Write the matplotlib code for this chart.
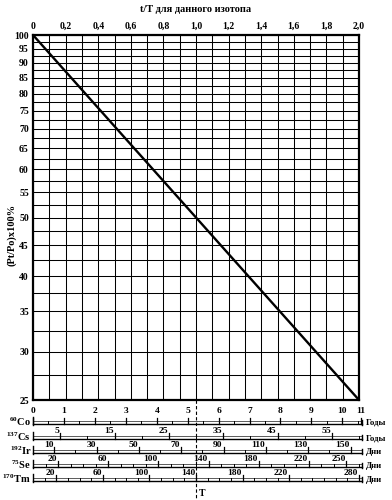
import matplotlib
matplotlib.use('Agg')
import matplotlib.pyplot as plt
import matplotlib.ticker as mticker
import numpy as np

# ---------------- data ----------------
t_over_T = [0.0, 1.0, 2.0]
activity_pct = [100, 50, 25]

x_ticks = [0.0, 0.2, 0.4, 0.6, 0.8, 1.0, 1.2, 1.4, 1.6, 1.8, 2.0]
x_tick_labels = ['0', '0,2', '0,4', '0,6', '0,8', '1,0', '1,2', '1,4', '1,6', '1,8', '2,0']
y_ticks = [100, 95, 90, 85, 80, 75, 70, 65, 60, 55, 50, 45, 40, 35, 30, 25]
y_minor_grid = [97.5, 92.5, 87.5, 82.5, 77.5, 72.5, 67.5, 62.5, 57.5, 52.5,
                47.5, 42.5, 37.5, 32.5, 27.5]

# isotope nomogram scales
iso_names = ['Co', 'Cs', 'Ir', 'Se', 'Tm']
iso_mass = ['60', '137', '192', '75', '170']
iso_half_life = [5.27, 30.0, 77.0, 130.0, 140.0]
co_labels = [0, 1, 2, 3, 4, 5, 6, 7, 8, 9, 10, 11]
cs_labels = [5, 15, 25, 35, 45, 55]
ir_labels = [10, 30, 50, 70, 90, 110, 130, 150]
se_labels = [20, 60, 100, 140, 180, 220, 250]
tm_labels = [20, 60, 100, 140, 180, 220, 280]
iso_labels = [co_labels, cs_labels, ir_labels, se_labels, tm_labels]
iso_minor_step = [0.5, 5, 10, 10, 10]
iso_units = ['Годы', 'Годы', 'Дни', 'Дни', 'Дни']

# ---------------- style ----------------
FONT = ['Liberation Serif', 'DejaVu Serif']
plt.rcParams['font.family'] = FONT
plt.rcParams['font.weight'] = 'bold'
plt.rcParams['mathtext.fontset'] = 'custom'
plt.rcParams['mathtext.rm'] = 'Liberation Serif:bold'
plt.rcParams['mathtext.it'] = 'Liberation Serif:bold'
plt.rcParams['mathtext.bf'] = 'Liberation Serif:bold'

W, H = 392, 500
fig = plt.figure(figsize=(W / 100, H / 100), dpi=100)
fig.patch.set_facecolor('white')

L, R, T_, B = 33, 359, 35, 400
ax = fig.add_axes([L / W, 1 - B / H, (R - L) / W, (B - T_) / H])
ax.set_yscale('log')
ax.set_xlim(0, 2.0)
ax.set_ylim(25, 100)

ax.plot(t_over_T, activity_pct, color='black', lw=1.7, solid_capstyle='butt', zorder=5)

ax.xaxis.tick_top()
ax.set_xticks(x_ticks)
ax.set_xticklabels(x_tick_labels, fontsize=7, fontweight='bold')
ax.set_xticks(np.arange(0.1, 2.0, 0.2), minor=True)
ax.set_yticks(y_ticks)
ax.set_yticklabels([str(v) for v in y_ticks], fontsize=7, fontweight='bold')
ax.set_yticks(y_minor_grid, minor=True)
ax.yaxis.set_minor_formatter(mticker.NullFormatter())
ax.tick_params(which='both', length=0, pad=3)
ax.grid(which='both', color='black', lw=0.75)
for s in ax.spines.values():
    s.set_linewidth(1.6)
    s.set_zorder(6)

fig.text(0.5, 1 - 10 / H, 't/T для данного изотопа', ha='center', va='center',
         fontsize=7.5, fontweight='bold')
fig.text(12 / W, 1 - 235 / H, '(Pt/Po)x100%', ha='center', va='center',
         rotation=90, fontsize=7.5, fontweight='bold')

# ---------------- bottom nomogram ----------------
bx = fig.add_axes([L / W, 0, (R - L) / W, 100 / H])
bx.set_xlim(0, 2.0)
bx.set_ylim(100, 0)
bx.axis('off')

base_y = [24, 39, 53, 67, 81]
end_x = 2.02
for i in range(5):
    yb = base_y[i]
    hl = iso_half_life[i]
    bx.plot([0, end_x], [yb, yb], color='black', lw=1.0, clip_on=False)
    bx.plot([0, end_x], [yb - 3.5, yb - 3.5], color='black', lw=0.45, clip_on=False)
    bx.plot([0, 0], [yb + 1, yb - 7], color='black', lw=1.0, clip_on=False)
    bx.plot([end_x, end_x], [yb + 1, yb - 4], color='black', lw=1.0, clip_on=False)
    step = iso_minor_step[i]
    v = step
    while v / hl < end_x - 0.005:
        bx.plot([v / hl, v / hl], [yb, yb - 3.5], color='black', lw=0.7, clip_on=False)
        v += step
    for lab in iso_labels[i]:
        x = min(lab / hl, end_x - 0.01)
        bx.plot([x, x], [yb, yb - 6.5], color='black', lw=0.9, clip_on=False)
        if i == 0:
            bx.text(x, yb - 13, str(lab), ha='center', va='center', fontsize=6.8,
                    fontweight='bold', clip_on=False)
        else:
            bx.text(x - 0.005, yb - 8, str(lab), ha='right', va='center', fontsize=6.8,
                    fontweight='bold', clip_on=False)
    bx.text(-0.012, yb - 2, '$^{' + iso_mass[i] + '}$' + iso_names[i], ha='right',
            va='center', fontsize=7.5, fontweight='bold', clip_on=False)
    bx.text(2.04, yb - 1, iso_units[i], ha='left', va='center', fontsize=6.3,
            fontweight='bold', clip_on=False)

bx.plot([1.0, 1.0], [0, 100], color='black', lw=0.8, ls=(0, (3, 2)), clip_on=False)
bx.text(1.02, 93, 'T', ha='left', va='center', fontsize=7, fontweight='bold')

fig.savefig('out.png', dpi=100, facecolor='white')
